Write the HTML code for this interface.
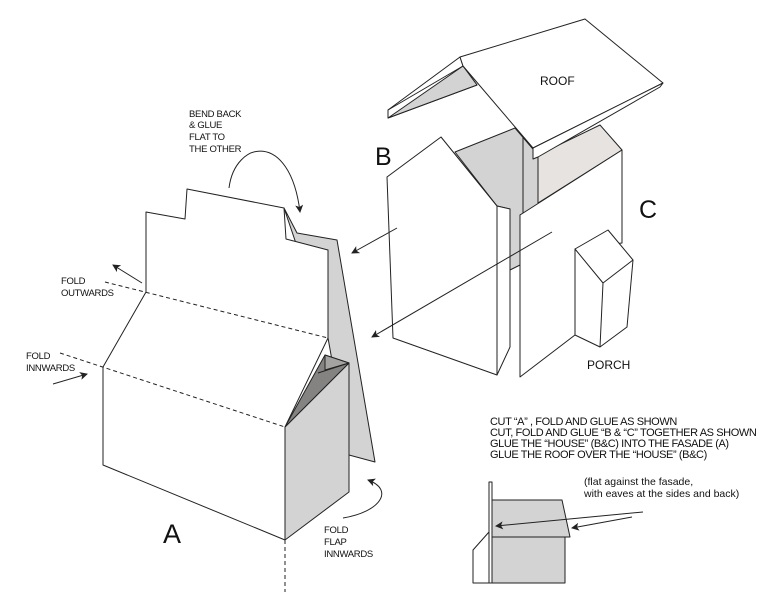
<!DOCTYPE html>
<html><head><meta charset="utf-8"><style>
body{margin:0;background:#fff}
svg{display:block}
text{font-family:"Liberation Sans",sans-serif;fill:#111}
.s{font-size:9.5px;letter-spacing:-0.3px}
.m{font-size:11px;letter-spacing:-0.4px}
</style></head><body>
<svg width="782" height="613" viewBox="0 0 782 613" xmlns="http://www.w3.org/2000/svg">
<defs><marker id="ah" markerWidth="8" markerHeight="8" refX="7" refY="4" orient="auto" markerUnits="userSpaceOnUse"><path d="M0,0 L8,4 L0,8 L2,4 Z" fill="#222"/></marker></defs>
<g stroke="#222" stroke-width="1" fill="none" stroke-linejoin="round">
<!-- Facade A -->
<polygon points="284,208 297,233 337,240 375,462 349,455 328,338" fill="#d3d3d3"/>
<polygon points="285,427 349,363 349,492 285,540" fill="#d3d3d3"/>
<polygon points="325,355 349,363 285,427" fill="#858381"/>
<polygon points="325,355 349,363 325,370" fill="#a5a3a1"/>
<line x1="318" y1="373" x2="349" y2="363"/>
<polygon points="146,212 185,219 187,189 284,208 286,239 328,250 328,338 285,427 285,540 103,465 103,367 146,292" fill="#fff"/>
<line x1="105" y1="282" x2="328" y2="338" stroke-dasharray="4,3"/>
<line x1="60" y1="353" x2="285" y2="427" stroke-dasharray="4,3"/>
<line x1="285" y1="540" x2="285" y2="592" stroke-dasharray="4,3"/>
<!-- arrows -->
<line x1="142" y1="283" x2="113" y2="265" marker-end="url(#ah)"/>
<line x1="53" y1="384" x2="87" y2="374" marker-end="url(#ah)"/>
<path d="M229,188 C235,140 290,130 300,212" marker-end="url(#ah)"/>
<path d="M343,518 C380,512 395,490 368,480" marker-end="url(#ah)"/>
<!-- House B/C -->
<polygon points="455,152 515,128 538,155 538,205 520,215 520,265 510,270 510,209 497,206" fill="#d3d3d3"/>
<line x1="523" y1="137" x2="523" y2="213"/>
<polygon points="538,155 600,125 622,150 538,203" fill="#e6e3e1"/>
<polygon points="387,177 441,137 497,206 497,375 393,338" fill="#fff"/>
<polygon points="497,206 510,209 510,347 497,375" fill="#fff"/>
<polygon points="520,215 622,150 622,243 575,249 575,335 520,377" fill="#fff"/>
<polygon points="575,249 608,230 633,260 627,327 600,347 575,335" fill="#fff"/>
<polyline points="575,249 603,283 633,260"/>
<line x1="603" y1="283" x2="600" y2="347"/>
<!-- long arrows over houses -->
<line x1="397" y1="228" x2="352" y2="253" marker-end="url(#ah)"/>
<line x1="552" y1="232" x2="372" y2="337" marker-end="url(#ah)"/>
<!-- Roof -->
<polygon points="460,57 463,66 477,85 388,118 388,110" fill="#fff"/>
<polygon points="388,118 463,66 477,85" fill="#d3d3d3"/>
<polygon points="460,57 585,19 663,83 533,148 463,66" fill="#fff"/>
<polygon points="663,83 660,87 538,157 533,159 533,148" fill="#fff"/>
<line x1="388" y1="110" x2="463" y2="66"/>
<!-- small diagram -->
<polygon points="492,500 562,500 570,537 565,537 565,583 492,583" fill="#d3d3d3"/>
<line x1="492" y1="537" x2="565" y2="537"/>
<rect x="489" y="482" width="3" height="101" fill="#fff"/>
<polyline points="489,532 473,550 473,583 498,583"/>
<line x1="643" y1="512" x2="496" y2="526" marker-end="url(#ah)"/>
<line x1="632" y1="517" x2="572" y2="528" marker-end="url(#ah)"/>
</g>
<text class="s" x="189" y="117">BEND BACK</text>
<text class="s" x="189" y="128">&amp; GLUE</text>
<text class="s" x="189" y="140">FLAT TO</text>
<text class="s" x="189" y="152">THE OTHER</text>
<text class="s" x="61" y="284">FOLD</text>
<text class="s" x="61" y="296">OUTWARDS</text>
<text class="s" x="26" y="359">FOLD</text>
<text class="s" x="26" y="371">INNWARDS</text>
<text class="s" x="324" y="533">FOLD</text>
<text class="s" x="324" y="545">FLAP</text>
<text class="s" x="324" y="557">INNWARDS</text>
<text x="163" y="543" style="font-size:27px">A</text>
<text x="375" y="165" style="font-size:25px">B</text>
<text x="639" y="218" style="font-size:25px">C</text>
<text x="540" y="85" style="font-size:12px">ROOF</text>
<text x="587" y="369" style="font-size:12px">PORCH</text>
<text class="m" x="490" y="425">CUT “A” , FOLD AND GLUE AS SHOWN</text>
<text class="m" x="490" y="436">CUT, FOLD AND GLUE “B &amp; “C” TOGETHER AS SHOWN</text>
<text class="m" x="490" y="447">GLUE THE “HOUSE” (B&amp;C) INTO THE FASADE (A)</text>
<text class="m" x="490" y="458">GLUE THE ROOF OVER THE “HOUSE” (B&amp;C)</text>
<text x="584" y="485" style="font-size:10.5px">(flat against the fasade,</text>
<text x="584" y="497" style="font-size:10.5px">with eaves at the sides and back)</text>
</svg>
</body></html>
